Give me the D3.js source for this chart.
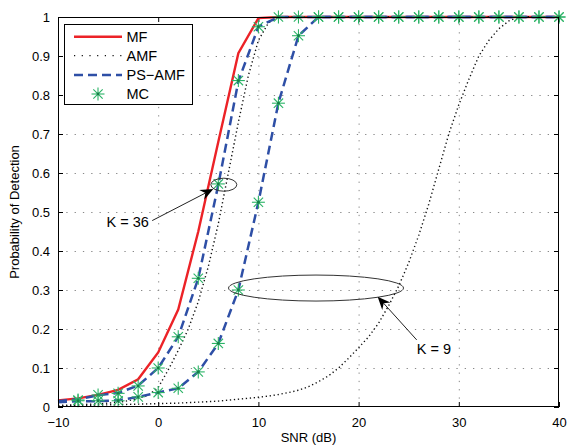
<!doctype html>
<html>
<head>
<meta charset="UTF-8" />
<script src="https://d3js.org/d3.v7.min.js"></script>
<style>
  body { margin: 0; background: #fff; }
  svg { display: block; font-family: "Liberation Sans", Arial, sans-serif; }
</style>
</head>
<body>
<svg id="chart" width="568" height="447"></svg>
<script>
// SNR grid (dB) for MF / PS-AMF curves
const snr = [-10, -8, -6, -4, -2, 0, 2, 4, 6, 8, 10, 12, 14, 16, 18, 20, 22, 24, 26, 28, 30, 32, 34, 36, 38, 40];
const mf    = [0.017, 0.022, 0.031, 0.044, 0.071, 0.14, 0.25, 0.45, 0.68, 0.907, 0.997, 1, 1, 1, 1, 1, 1, 1, 1, 1, 1, 1, 1, 1, 1, 1];
const psK36 = [0.015, 0.02, 0.03, 0.036, 0.055, 0.10, 0.18, 0.33, 0.57, 0.835, 0.975, 1, 1, 1, 1, 1, 1, 1, 1, 1, 1, 1, 1, 1, 1, 1];
const psK9  = [0.012, 0.015, 0.015, 0.017, 0.026, 0.037, 0.048, 0.09, 0.163, 0.30, 0.525, 0.78, 0.952, 1, 1, 1, 1, 1, 1, 1, 1, 1, 1, 1, 1, 1];

// AMF curves (finer SNR steps)
const amfK36Snr = [-10, -8, -6, -4, -3, -2, -1, 0, 1, 2, 3, 4, 5, 6, 7, 8, 9, 10, 11, 12, 40];
const amfK36    = [0.004, 0.006, 0.008, 0.012, 0.016, 0.022, 0.03, 0.05, 0.095, 0.145, 0.2, 0.27, 0.36, 0.47, 0.6, 0.73, 0.85, 0.94, 0.985, 1, 1];
const amfK9Snr  = [-10, -4, 2, 6, 10, 11, 12, 13, 14, 15, 16, 17, 18, 19, 20, 21, 22, 23, 24, 25, 26, 27, 28, 29, 30, 31, 32, 33, 34, 35, 36, 40];
const amfK9     = [0.003, 0.006, 0.01, 0.015, 0.025, 0.028, 0.032, 0.037, 0.043, 0.052, 0.065, 0.08, 0.1, 0.125, 0.152, 0.18, 0.215, 0.26, 0.31, 0.37, 0.44, 0.52, 0.61, 0.7, 0.775, 0.84, 0.9, 0.94, 0.97, 0.99, 1, 1];

// Monte Carlo markers
const mcSnr = [-8, -6, -4, -2, 0, 2, 4, 6, 8, 10, 12, 14, 16, 18, 20, 22, 24, 26, 28, 30, 32, 34, 36, 38, 40];
const mcK36 = [0.018, 0.031, 0.035, 0.054, 0.10, 0.18, 0.33, 0.572, 0.837, 0.975, 1, 1, 1, 1, 1, 1, 1, 1, 1, 1, 1, 1, 1, 1, 1];
const mcK9  = [0.016, 0.016, 0.016, 0.026, 0.037, 0.048, 0.09, 0.163, 0.30, 0.525, 0.779, 0.952, 1, 1, 1, 1, 1, 1, 1, 1, 1, 1, 1, 1, 1];

const xTicks = [-10, 0, 10, 20, 30, 40];
const yTicks = [0, 0.1, 0.2, 0.3, 0.4, 0.5, 0.6, 0.7, 0.8, 0.9, 1];
const yTickLabels = ["0", "0.1", "0.2", "0.3", "0.4", "0.5", "0.6", "0.7", "0.8", "0.9", "1"];
const legendLabels = ["MF", "AMF", "PS\u2212AMF", "MC"];

const svg = d3.select("#chart");
const m = { left: 58, right: 559, top: 17, bottom: 407 };

const x = d3.scaleLinear().domain([-10, 40]).range([m.left, m.right]);
const y = d3.scaleLinear().domain([0, 1]).range([m.bottom, m.top]);

const RED = "#ec2227", BLUE = "#2e4fa6", GREEN = "#2bb366", DOT = "#111";

svg.append("rect").attr("x", m.left).attr("y", m.top)
  .attr("width", m.right - m.left).attr("height", m.bottom - m.top).attr("fill", "#fff");

// grid
const grid = svg.append("g").attr("stroke", "#888").attr("stroke-width", 1).attr("stroke-dasharray", "1.3 7");
grid.selectAll("line.gx").data(xTicks.slice(1, -1)).join("line")
  .attr("x1", d => x(d) + 0.5).attr("x2", d => x(d) + 0.5).attr("y1", m.bottom).attr("y2", m.top);
grid.selectAll("line.gy").data(yTicks.slice(1, -1)).join("line")
  .attr("y1", d => Math.round(y(d)) + 0.5).attr("y2", d => Math.round(y(d)) + 0.5).attr("x1", m.left).attr("x2", m.right);

// axes (ticks inward, MATLAB box)
const fmtY = (d, i) => yTickLabels[i];
const axB = svg.append("g").attr("transform", `translate(0,${m.bottom})`)
  .call(d3.axisBottom(x).tickValues(xTicks).tickSizeInner(-5).tickSizeOuter(0).tickPadding(8));
const axT = svg.append("g").attr("transform", `translate(0,${m.top})`)
  .call(d3.axisTop(x).tickValues(xTicks).tickSizeInner(-5).tickSizeOuter(0).tickFormat(""));
const axL = svg.append("g").attr("transform", `translate(${m.left},0)`)
  .call(d3.axisLeft(y).tickValues(yTicks).tickFormat(fmtY).tickSizeInner(-5).tickSizeOuter(0).tickPadding(8));
const axR = svg.append("g").attr("transform", `translate(${m.right},0)`)
  .call(d3.axisRight(y).tickValues(yTicks).tickSizeInner(-5).tickSizeOuter(0).tickFormat(""));
[axB, axT, axL, axR].forEach(a => {
  a.select(".domain").remove();
  a.selectAll("line").attr("stroke", "#000");
  a.selectAll("text").attr("font-size", 13).attr("font-family", "Liberation Sans, Arial, sans-serif").attr("fill", "#000");
});
axB.selectAll("text").attr("dy", "0.9em");

// curves
const line = d3.line().x(d => x(d[0])).y(d => y(d[1]));
const pairs = (xs, ys) => xs.map((v, i) => [v, ys[i]]);
const plot = svg.append("g").attr("fill", "none");

plot.append("path").attr("d", line(pairs(snr, mf))).attr("stroke", RED).attr("stroke-width", 2.4);
[[amfK36Snr, amfK36], [amfK9Snr, amfK9]].forEach(([xs, ys]) =>
  plot.append("path").attr("d", line(pairs(xs, ys))).attr("stroke", DOT)
    .attr("stroke-width", 1.4).attr("stroke-dasharray", "1.3 2.7"));
[psK36, psK9].forEach(ys =>
  plot.append("path").attr("d", line(pairs(snr, ys))).attr("stroke", BLUE)
    .attr("stroke-width", 2.5).attr("stroke-dasharray", "9 5"));

function star(g, cx, cy) {
  const r = 6.5, d = r * 0.72;
  const s = g.append("g").attr("transform", `translate(${cx},${cy})`)
    .attr("stroke", GREEN).attr("stroke-width", 1.1);
  s.append("line").attr("x1", -r).attr("x2", r);
  s.append("line").attr("y1", -r).attr("y2", r);
  s.append("line").attr("x1", -d).attr("y1", -d).attr("x2", d).attr("y2", d);
  s.append("line").attr("x1", -d).attr("y1", d).attr("x2", d).attr("y2", -d);
  s.append("circle").attr("r", 1.4).attr("fill", "#178048").attr("stroke", "none");
}
const stars = svg.append("g");
[mcK36, mcK9].forEach(ys => mcSnr.forEach((s, i) => star(stars, x(s), y(ys[i]))));

// frame
svg.append("rect").attr("x", m.left + 0.5).attr("y", m.top + 0.5)
  .attr("width", m.right - m.left - 1).attr("height", m.bottom - m.top - 1)
  .attr("fill", "none").attr("stroke", "#000").attr("stroke-width", 1);

// annotations
function arrow(x1, y1, x2, y2) {
  const ang = Math.atan2(y2 - y1, x2 - x1);
  const L = 13, W = 5.5, N = 9;
  const p = (a, b) => [x2 + a * Math.cos(ang) - b * Math.sin(ang), y2 + a * Math.sin(ang) + b * Math.cos(ang)];
  svg.append("line").attr("x1", x1).attr("y1", y1).attr("x2", p(-N, 0)[0]).attr("y2", p(-N, 0)[1])
    .attr("stroke", "#222").attr("stroke-width", 1);
  svg.append("path").attr("d", "M" + [p(0, 0), p(-L, W), p(-N, 0), p(-L, -W)].join("L") + "Z").attr("fill", "#000");
}
const ann = svg.append("g").attr("fill", "none").attr("stroke", "#333").attr("stroke-width", 1);
ann.append("ellipse").attr("cx", x(6.55)).attr("cy", y(0.57)).attr("rx", 13).attr("ry", 6.5);
ann.append("ellipse").attr("cx", x(15.75)).attr("cy", y(0.305)).attr("rx", 87.5).attr("ry", 13);
arrow(x(-0.6), y(0.478), x(5.5), y(0.559));
arrow(x(25.8), y(0.172), x(21.9), y(0.283));
svg.append("text").attr("x", x(-5.15)).attr("y", y(0.461)).attr("font-size", 14.5).text("K = 36");
svg.append("text").attr("x", x(25.8)).attr("y", y(0.135)).attr("font-size", 14.5).text("K = 9");

// axis labels
svg.append("text").attr("x", (m.left + m.right) / 2).attr("y", 442).attr("text-anchor", "middle")
  .attr("font-size", 13).text("SNR (dB)");
svg.append("text").attr("transform", `translate(19,${(m.top + m.bottom) / 2}) rotate(-90)`)
  .attr("text-anchor", "middle").attr("font-size", 13).text("Probability of Detection");

// legend
const lg = svg.append("g");
lg.append("rect").attr("x", 64.5).attr("y", 24.5).attr("width", 128).attr("height", 80)
  .attr("fill", "#fff").attr("stroke", "#000").attr("stroke-width", 1);
const rowY = [36.7, 55.7, 75, 94];
lg.append("line").attr("x1", 74).attr("x2", 122).attr("y1", rowY[0]).attr("y2", rowY[0]).attr("stroke", RED).attr("stroke-width", 2.4);
lg.append("line").attr("x1", 74).attr("x2", 122).attr("y1", rowY[1]).attr("y2", rowY[1]).attr("stroke", DOT).attr("stroke-width", 1.3).attr("stroke-dasharray", "1.2 6.5");
lg.append("line").attr("x1", 74).attr("x2", 122).attr("y1", rowY[2]).attr("y2", rowY[2]).attr("stroke", BLUE).attr("stroke-width", 2.5).attr("stroke-dasharray", "9 5");
star(lg, 98, rowY[3]);
lg.selectAll("text").data(legendLabels).join("text")
  .attr("x", 126.5).attr("y", (d, i) => rowY[i] + 5).attr("font-size", 14.5).text(d => d);
</script>
</body>
</html>
